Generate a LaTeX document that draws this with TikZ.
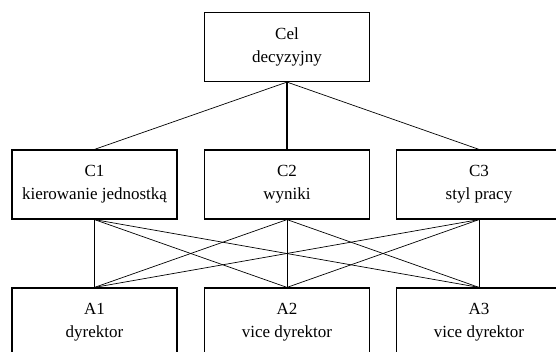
\documentclass[tikz,border=0pt]{standalone}
\usepackage{fontspec}
\setmainfont{Liberation Serif}
\begin{document}
\begin{tikzpicture}[x=1pt,y=-1pt,
  box/.style={draw,line width=1.2pt,minimum width=165pt,minimum height=69pt,inner sep=0pt,align=center,font=\fontsize{17}{23}\selectfont},
  link/.style={line width=0.7pt},
  thick link/.style={line width=1.6pt}]
\useasboundingbox (0,0) rectangle (556,352);
\clip (0,0) rectangle (556,352);
\node[box] (cel) at (287,47) {Cel\\decyzyjny};
\node[box] (c1) at (94.5,184.5) {C1\\kierowanie jednostką};
\node[box] (c2) at (287,184.5) {C2\\wyniki};
\node[box] (c3) at (479,184.5) {C3\\styl pracy};
\node[box] (a1) at (94.5,322.5) {A1\\dyrektor};
\node[box] (a2) at (287,322.5) {A2\\vice dyrektor};
\node[box] (a3) at (479,322.5) {A3\\vice dyrektor};
\draw[link] (cel.south) -- (c1.north);
\draw[link] (cel.south) -- (c3.north);
\draw[thick link] (cel.south) -- (c2.north);
\foreach \c in {c1,c2,c3}{
  \foreach \a in {a1,a2,a3}{
    \draw[link] (\c.south) -- (\a.north);
  }
}
\end{tikzpicture}
\end{document}
